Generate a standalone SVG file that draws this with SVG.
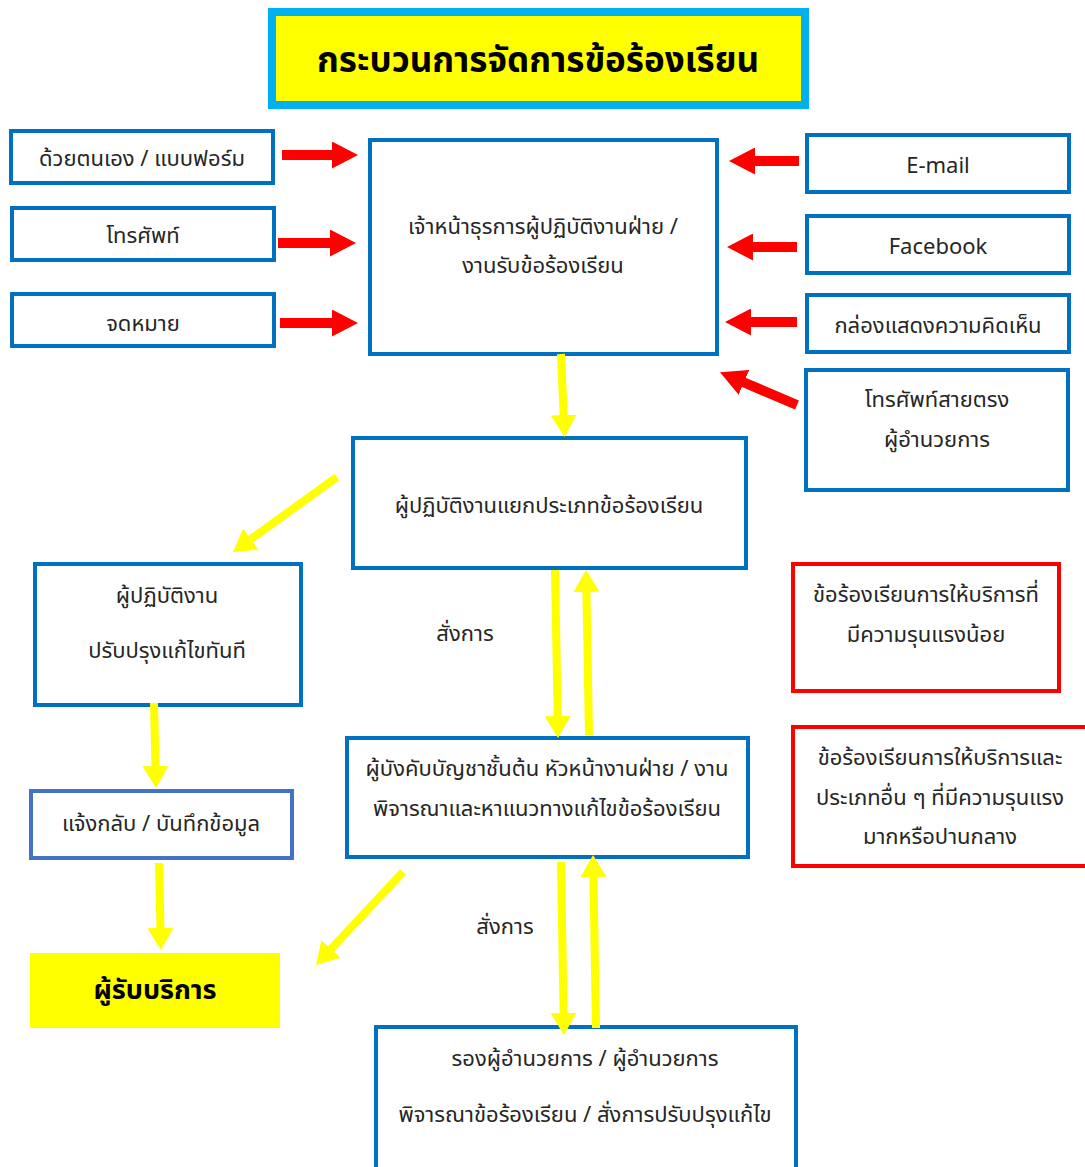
<svg xmlns="http://www.w3.org/2000/svg" width="1085" height="1167" viewBox="0 0 1085 1167">
<style>
.box{fill:#fff;stroke:#0070C0;stroke-width:4}
.rbox{fill:#fff;stroke:#FF0000;stroke-width:4}
.t{font-family:"Noto Sans Thai","Noto Sans","DejaVu Sans",sans-serif;font-size:22px;fill:#262626;text-anchor:middle}
.red{stroke:#FF0000;stroke-width:10;fill:none}
.yel{stroke:#FFFF00;stroke-width:8;fill:none}
</style>
<defs>
<marker id="rh" markerUnits="userSpaceOnUse" markerWidth="26" markerHeight="27" viewBox="0 0 26 27" refX="1" refY="13.5" orient="auto"><path d="M0,0 L26,13.5 L0,27 z" fill="#FF0000"/></marker>
<marker id="yh" markerUnits="userSpaceOnUse" markerWidth="22" markerHeight="26" viewBox="0 0 22 26" refX="1" refY="13" orient="auto"><path d="M0,0 L22,13 L0,26 z" fill="#FFFF00"/></marker>
</defs>
<rect width="1085" height="1167" fill="#fff"/>

<g id="title">
<rect x="272" y="12" width="533" height="93" fill="#FFFF00" stroke="#00B0F0" stroke-width="8"/>
<text x="538" y="72" class="t" style="font-size:35px;font-weight:bold;fill:#000">กระบวนการจัดการข้อร้องเรียน</text>
</g>

<g id="self"><rect class="box" x="11" y="131" width="262" height="52"/><text class="t" x="142" y="166">ด้วยตนเอง / แบบฟอร์ม</text></g>
<g id="phone"><rect class="box" x="12" y="208" width="262" height="52"/><text class="t" x="143" y="243">โทรศัพท์</text></g>
<g id="letter"><rect class="box" x="12" y="294" width="262" height="52"/><text class="t" x="143" y="331">จดหมาย</text></g>

<g id="officer"><rect class="box" x="370" y="140" width="347" height="214"/>
<text class="t" x="543" y="234">เจ้าหน้าธุรการผู้ปฏิบัติงานฝ่าย /</text>
<text class="t" x="543" y="273">งานรับข้อร้องเรียน</text></g>

<g id="email"><rect class="box" x="807" y="135" width="262" height="57"/><text class="t" x="938" y="173">E-mail</text></g>
<g id="facebook"><rect class="box" x="807" y="216" width="262" height="57"/><text class="t" x="938" y="254">Facebook</text></g>
<g id="commentbox"><rect class="box" x="807" y="295" width="262" height="57"/><text class="t" x="938" y="333">กล่องแสดงความคิดเห็น</text></g>
<g id="directline"><rect class="box" x="806" y="370" width="262" height="120"/>
<text class="t" x="937" y="407">โทรศัพท์สายตรง</text>
<text class="t" x="937" y="447">ผู้อำนวยการ</text></g>

<g id="classify"><rect class="box" x="353" y="438" width="393" height="130"/>
<text class="t" x="549" y="513">ผู้ปฏิบัติงานแยกประเภทข้อร้องเรียน</text></g>

<g id="fixnow"><rect class="box" x="35" y="564" width="266" height="141"/>
<text class="t" x="167" y="603">ผู้ปฏิบัติงาน</text>
<text class="t" x="167" y="658">ปรับปรุงแก้ไขทันที</text></g>

<g id="feedback"><rect x="31" y="791" width="261" height="67" fill="#fff" stroke="#4472C4" stroke-width="4"/>
<text class="t" x="161" y="831">แจ้งกลับ / บันทึกข้อมูล</text></g>

<g id="recipient"><rect x="30" y="953" width="250" height="75" fill="#FFFF00"/>
<text class="t" x="155" y="999" style="font-size:27px;font-weight:bold;fill:#000">ผู้รับบริการ</text></g>

<g id="supervisor"><rect class="box" x="347" y="738" width="401" height="119"/>
<text class="t" x="547" y="776">ผู้บังคับบัญชาชั้นต้น หัวหน้างานฝ่าย / งาน</text>
<text class="t" x="547" y="816">พิจารณาและหาแนวทางแก้ไขข้อร้องเรียน</text></g>

<g id="director"><rect class="box" x="376" y="1027" width="420" height="145"/>
<text class="t" x="585" y="1066">รองผู้อำนวยการ / ผู้อำนวยการ</text>
<text class="t" x="585" y="1122">พิจารณาข้อร้องเรียน / สั่งการปรับปรุงแก้ไข</text></g>

<g id="minor"><rect class="rbox" x="793" y="564" width="266" height="127"/>
<text class="t" x="926" y="602">ข้อร้องเรียนการให้บริการที่</text>
<text class="t" x="926" y="642">มีความรุนแรงน้อย</text></g>

<g id="major"><rect class="rbox" x="793" y="727" width="300" height="139"/>
<text class="t" x="940" y="765">ข้อร้องเรียนการให้บริการและ</text>
<text class="t" x="940" y="805">ประเภทอื่น ๆ ที่มีความรุนแรง</text>
<text class="t" x="940" y="844">มากหรือปานกลาง</text></g>

<g id="connectors">
<path class="red" d="M282,155 L333,155" marker-end="url(#rh)"/>
<path class="red" d="M278,243 L331,243" marker-end="url(#rh)"/>
<path class="red" d="M280,323 L333,323" marker-end="url(#rh)"/>
<path class="red" d="M799,161 L754,161" marker-end="url(#rh)"/>
<path class="red" d="M797,247 L752,247" marker-end="url(#rh)"/>
<path class="red" d="M797,322 L750,322" marker-end="url(#rh)"/>
<path class="red" d="M797,405 L743,382" marker-end="url(#rh)"/>
<path class="yel" d="M561,354 L563.7,416" marker-end="url(#yh)"/>
<path class="yel" d="M337,477 L250,539.7" marker-end="url(#yh)"/>
<path class="yel" d="M154,703 L155.5,767" marker-end="url(#yh)"/>
<path class="yel" d="M159,863 L160.5,929" marker-end="url(#yh)"/>
<path class="yel" d="M555,570 L557.7,717" marker-end="url(#yh)"/>
<path class="yel" d="M589,735 L586.4,591" marker-end="url(#yh)"/>
<path class="yel" d="M403,872 L330.3,949.7" marker-end="url(#yh)"/>
<path class="yel" d="M561,862 L563.6,1014" marker-end="url(#yh)"/>
<path class="yel" d="M596,1028 L593.4,876" marker-end="url(#yh)"/>
<text class="t" x="465" y="641">สั่งการ</text>
<text class="t" x="505" y="934">สั่งการ</text>
</g>
</svg>
